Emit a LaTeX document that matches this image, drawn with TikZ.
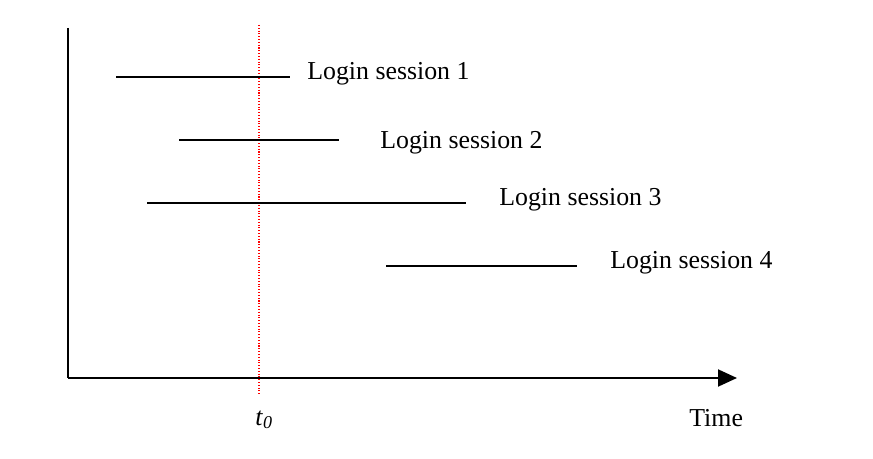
\documentclass[tikz,border=0pt]{standalone}
\usepackage{fontspec}
\setmainfont{Liberation Serif}
\usetikzlibrary{arrows.meta, positioning}

\begin{document}
\begin{tikzpicture}[
  x=0.02cm, y=-0.02cm,
  axis/.style={line width=1.1pt, -{Triangle[length=0.38cm, width=0.34cm]}},
  session/.style={line width=1pt},
  lbl/.style={anchor=base west, inner sep=0pt, font=\fontsize{14.7}{17}\selectfont},
  marker/.style={red, densely dotted, line width=0.6pt}
]
  \useasboundingbox (0,0) rectangle (873,459);

  % axes
  \coordinate (ytop) at (68,28);
  \coordinate (origin) at (68,378);
  \coordinate (xend) at (737,378);
  \draw[line width=1.1pt] (ytop) -- (origin);
  \draw[axis] (origin) -- (xend);
  \node[lbl] (time) at (689,427) {Time};

  % t0 marker
  \coordinate (mtop) at (259,25);
  \coordinate (mbot) at (259,394);
  \draw[marker] (mtop) -- (mbot);
  \node[lbl] (t0) at (255,425) {\textit{t}\textsubscript{\textit{0}}};

  % sessions
  \coordinate (s1a) at (116,77);
  \coordinate (s1b) at (290,77);
  \draw[session] (s1a) -- (s1b);
  \node[lbl] (l1) at (307,80) {Login session 1};

  \coordinate (s2a) at (179,140);
  \coordinate (s2b) at (339,140);
  \draw[session] (s2a) -- (s2b);
  \node[lbl] (l2) at (380,148.5) {Login session 2};

  \coordinate (s3a) at (147,203);
  \coordinate (s3b) at (466,203);
  \draw[session] (s3a) -- (s3b);
  \node[lbl] (l3) at (499,205.5) {Login session 3};

  \coordinate (s4a) at (386,266);
  \coordinate (s4b) at (577,266);
  \draw[session] (s4a) -- (s4b);
  \node[lbl] (l4) at (610,269) {Login session 4};
\end{tikzpicture}
\end{document}
